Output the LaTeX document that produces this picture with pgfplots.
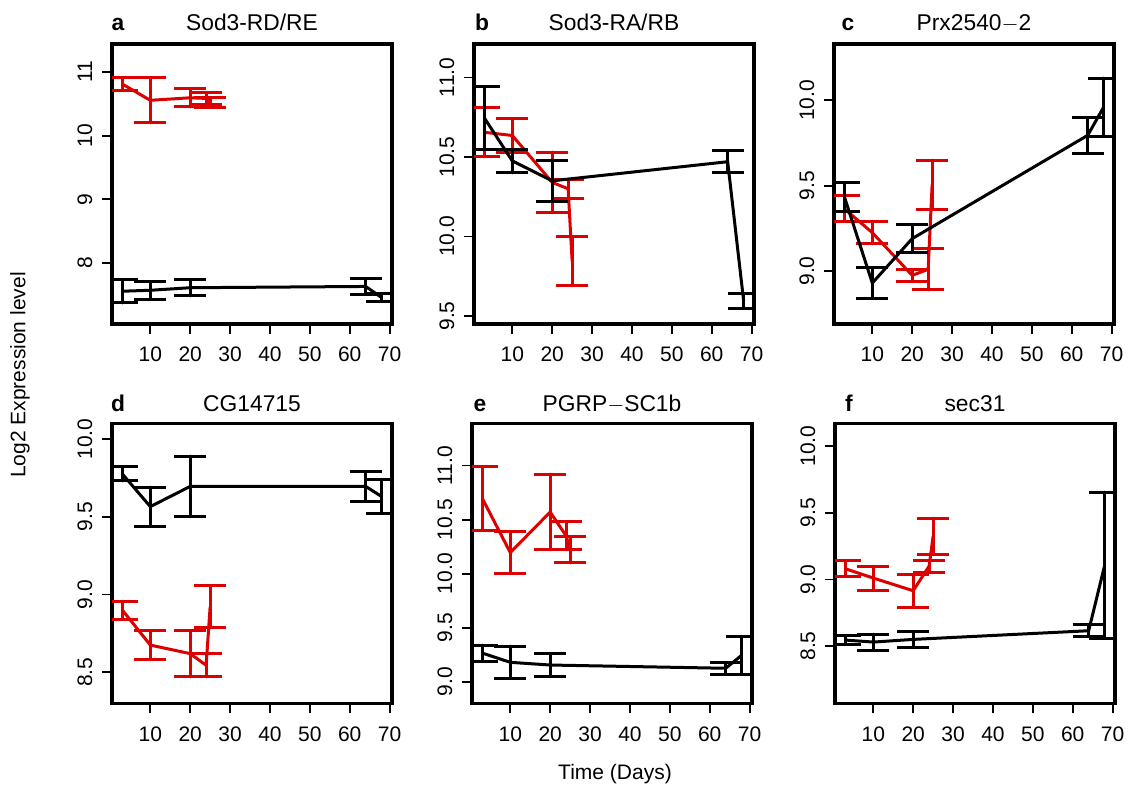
\documentclass[border=0pt]{standalone}
\usepackage{fontspec}
\setmainfont{Liberation Sans}
\usepackage{pgfplots}
\pgfplotsset{compat=1.18}

\definecolor{rred}{RGB}{220,0,0}

\tikzset{
  ttl/.style={anchor=base, font=\fontsize{11.4}{13}\selectfont},
  let/.style={anchor=base, font=\fontsize{11.4}{13}\selectfont\bfseries},
}

\pgfplotsset{
  panel/.style={
    width=140pt, height=140pt, scale only axis,
    anchor=north west,
    xmin=0.4, xmax=70.6,
    xtick={10,20,...,70},
    axis line style={line width=1.6pt},
    every tick/.style={line width=0.9pt, black},
    tick align=outside, major tick length=5pt,
    xtick pos=bottom, ytick pos=left,
    tick label style={font=\fontsize{10.5}{12}\selectfont},
    /pgf/number format/assume math mode=true,
    xticklabel style={anchor=north, inner sep=0pt},
    yticklabel style={rotate=90, anchor=base, inner sep=0pt},
    xticklabel shift=6.3pt, yticklabel shift=5pt,
    clip mode=individual,
    clip marker paths=true,
    error bars/y dir=both, error bars/y explicit,
  },
  dec/.style={yticklabel style={/pgf/number format/.cd, fixed, fixed zerofill, precision=1}},
  blk/.style={black, line width=1.5pt, line cap=round, mark=none,
    error bars/error bar style={black, line width=1.5pt},
    error bars/error mark options={rotate=90, black, line width=1.5pt, mark size=8pt}},
  rd/.style={rred, line width=1.5pt, line cap=round, mark=none,
    error bars/error bar style={rred, line width=1.5pt},
    error bars/error mark options={rotate=90, rred, line width=1.5pt, mark size=8pt}},
}

\begin{document}
\begin{tikzpicture}
\useasboundingbox (0,0) rectangle (564.5pt,-396pt);

% a
\begin{axis}[panel, at={(56pt,-22pt)}, ymin=7.04, ymax=11.44, ytick={8,9,10,11}]
\addplot[rd] table[y error=e] {
x y e
3 10.81 0.10
10 10.555 0.355
20 10.595 0.145
24 10.585 0.095
25 10.52 0.08
};
\addplot[blk] table[y error=e] {
x y e
3 7.555 0.185
10 7.57 0.14
20 7.61 0.13
64 7.63 0.12
68 7.455 0.065
};
\node[ttl] at ([yshift=6.6pt]rel axis cs:0.5,1) {Sod3-RD/RE};
\node[let] at ([xshift=3pt,yshift=6.6pt]rel axis cs:0,1) {a};
\end{axis}

% b
\begin{axis}[panel, dec, at={(237pt,-22pt)}, ymin=9.45, ymax=11.21, ytick={9.5,10,10.5,11}]
\addplot[rd] table[y error=e] {
x y e
3 10.655 0.155
10 10.635 0.105
20 10.34 0.19
24 10.30 0.06
25 9.845 0.155
};
\addplot[blk] table[y error=e] {
x y e
3 10.745 0.195
10 10.475 0.075
20 10.35 0.13
64 10.47 0.07
68 9.595 0.045
};
\node[ttl] at ([yshift=6.6pt]rel axis cs:0.5,1) {Sod3-RA/RB};
\node[let] at ([xshift=4pt,yshift=6.6pt]rel axis cs:0,1) {b};
\end{axis}

% c
\begin{axis}[panel, dec, at={(417pt,-22pt)}, ymin=8.69, ymax=10.33, ytick={9,9.5,10}]
\addplot[rd] table[y error=e] {
x y e
3 9.365 0.075
10 9.225 0.065
20 8.975 0.035
24 9.01 0.12
25 9.505 0.145
};
\addplot[blk] table[y error=e] {
x y e
3 9.435 0.085
10 8.93 0.09
20 9.19 0.08
64 9.795 0.105
68 9.96 0.17
};
\node[ttl] at ([yshift=6.6pt]rel axis cs:0.5,1) {Prx2540$-$2};
\node[let] at ([xshift=7pt,yshift=6.6pt]rel axis cs:0,1) {c};
\end{axis}

% d
\begin{axis}[panel, dec, at={(56pt,-211.7pt)}, ymin=8.30, ymax=10.10, ytick={8.5,9,9.5,10}]
\addplot[rd] table[y error=e] {
x y e
3 8.90 0.058
10 8.675 0.095
20 8.62 0.15
24 8.545 0.075
25 8.92 0.135
};
\addplot[blk] table[y error=e] {
x y e
3 9.775 0.045
10 9.565 0.125
20 9.695 0.195
64 9.695 0.095
68 9.63 0.11
};
\node[ttl] at ([yshift=6pt]rel axis cs:0.5,1) {CG14715};
\node[let] at ([xshift=3pt,yshift=6pt]rel axis cs:0,1) {d};
\end{axis}

% e
\begin{axis}[panel, dec, at={(236pt,-211.7pt)}, ymin=8.80, ymax=11.39, ytick={9,9.5,10,10.5,11}]
\addplot[rd] table[y error=e] {
x y e
3 10.695 0.295
10 10.195 0.195
20 10.57 0.35
24 10.35 0.13
25 10.22 0.12
};
\addplot[blk] table[y error=e] {
x y e
3 9.265 0.075
10 9.18 0.15
20 9.155 0.105
64 9.125 0.055
68 9.245 0.175
};
\node[ttl] at ([yshift=6pt]rel axis cs:0.5,1) {PGRP$-$SC1b};
\node[let] at ([xshift=4pt,yshift=6pt]rel axis cs:0,1) {e};
\end{axis}

% f
\begin{axis}[panel, dec, at={(417.5pt,-211.7pt)}, ymin=8.07, ymax=10.17, ytick={8.5,9,9.5,10}]
\addplot[rd] table[y error=e] {
x y e
3 9.08 0.06
10 9.01 0.09
20 8.915 0.125
24 9.10 0.045
25 9.325 0.135
};
\addplot[blk] table[y error=e] {
x y e
3 8.545 0.035
10 8.53 0.06
20 8.55 0.06
64 8.615 0.045
68 9.105 0.55
};
\node[ttl] at ([yshift=6pt]rel axis cs:0.5,1) {sec31};
\node[let] at ([xshift=7pt,yshift=6pt]rel axis cs:0,1) {f};
\end{axis}

\node[rotate=90, font=\fontsize{10.5}{12}\selectfont] at (10pt,-187.5pt) {Log2 Expression level};
\node[font=\fontsize{10.5}{12}\selectfont] at (307.5pt,-387pt) {Time (Days)};
\end{tikzpicture}
\end{document}
